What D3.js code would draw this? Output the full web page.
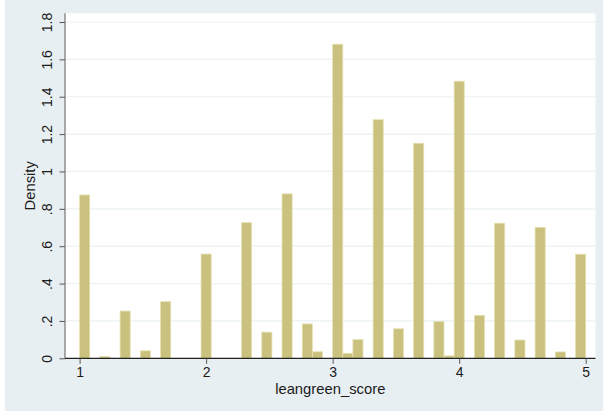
<!DOCTYPE html>
<html>
<head>
<meta charset="utf-8">
<script src="https://cdn.jsdelivr.net/npm/d3@7"></script>
<style>
    body { margin: 0; background: #ffffff; }
    text { font-family: "Liberation Sans", Arial, sans-serif; fill: #1a1a1a; }
</style>
</head>
<body>
<div id="chart"></div>
<script>
// histogram of leangreen_score, 50 bins of width .08 starting at 1
let binStart = 1;
let binWidth = 0.08;
let densities = [
    0.874, 0, 0.010, 0, 0.253, 0, 0.040, 0, 0.303, 0,
    0, 0, 0.558, 0, 0, 0, 0.726, 0, 0.140, 0,
    0.880, 0, 0.184, 0.035, 0, 1.681, 0.027, 0.100, 0, 1.277,
    0, 0.158, 0, 1.151, 0, 0.197, 0.013, 1.483, 0, 0.230,
    0, 0.723, 0, 0.098, 0, 0.701, 0, 0.034, 0, 0.557
];
let xTicks = [1, 2, 3, 4, 5];
let yTicks = [0, 0.2, 0.4, 0.6, 0.8, 1, 1.2, 1.4, 1.6, 1.8];
let yTickLabels = ["0", ".2", ".4", ".6", ".8", "1", "1.2", "1.4", "1.6", "1.8"];

let W = 603, H = 412;
let plot = {left: 65, right: 595.5, top: 13.3, bottom: 358.3};

let svg = d3.select("#chart").append("svg")
    .attr("width", W)
    .attr("height", H);

// graph region + plot region
svg.append("rect")
    .attr("x", 5).attr("y", 0)
    .attr("width", W - 5).attr("height", H - 1)
    .attr("fill", "#e8eff2");

svg.append("rect")
    .attr("x", plot.left).attr("y", plot.top)
    .attr("width", plot.right - plot.left).attr("height", plot.bottom - plot.top)
    .attr("fill", "#ffffff");

// scales
let x = d3.scaleLinear().domain([1, 5]).range([79.6, 585.7]);
let y = d3.scaleLinear().domain([0, 1.8]).range([plot.bottom, 22]);

// grid lines
svg.append("g")
    .selectAll("line")
    .data(yTicks.slice(1))
    .enter()
    .append("line")
    .attr("x1", plot.left + 1)
    .attr("x2", plot.right)
    .attr("y1", d => y(d))
    .attr("y2", d => y(d))
    .attr("stroke", "#eaf2f3")
    .attr("stroke-width", 1.2);

// bars
let bins = densities.map(function (d, i) {
    return {x0: binStart + i * binWidth, x1: binStart + (i + 1) * binWidth, density: d};
}).filter(d => d.density > 0);

svg.append("g")
    .selectAll("rect")
    .data(bins)
    .enter()
    .append("rect")
    .attr("x", d => x(d.x0))
    .attr("y", d => y(d.density))
    .attr("width", d => x(d.x1) - x(d.x0))
    .attr("height", d => y(0) - y(d.density))
    .attr("fill", "#c9c17d")
    .attr("stroke", "#e6e1b2")
    .attr("stroke-width", 0.8);

// y axis
let yAxis = svg.append("g")
    .attr("transform", "translate(" + plot.left + ",0)")
    .call(d3.axisLeft(y).tickValues(yTicks).tickSize(5.5).tickFormat((d, i) => yTickLabels[i]));

yAxis.select(".domain")
    .attr("d", "M0," + plot.top + "V" + plot.bottom)
    .attr("stroke", "#7f7f7f")
    .attr("stroke-width", 1.3);
yAxis.selectAll(".tick line").attr("stroke", "#555").attr("stroke-width", 1);
yAxis.selectAll(".tick text")
    .attr("x", null).attr("dy", null)
    .attr("transform", "translate(-13,0) rotate(-90)")
    .attr("text-anchor", "middle")
    .style("font-size", "14px")
    .style("font-family", "Liberation Sans, Arial, sans-serif")
    .attr("fill", "#1a1a1a");

// x axis
let xAxis = svg.append("g")
    .attr("transform", "translate(0," + plot.bottom + ")")
    .call(d3.axisBottom(x).tickValues(xTicks).tickSize(5.5).tickFormat(d3.format("d")));

xAxis.select(".domain")
    .attr("d", "M" + plot.left + ",0H" + plot.right)
    .attr("stroke", "#222")
    .attr("stroke-width", 1.3);
xAxis.selectAll(".tick line").attr("stroke", "#555").attr("stroke-width", 1);
xAxis.selectAll(".tick text")
    .attr("y", 9).attr("dy", "0.71em")
    .style("font-size", "14px")
    .style("font-family", "Liberation Sans, Arial, sans-serif")
    .attr("fill", "#1a1a1a");

// titles
svg.append("text")
    .attr("x", (plot.left + plot.right) / 2)
    .attr("y", 393.5)
    .attr("text-anchor", "middle")
    .style("font-size", "14.8px")
    .text("leangreen_score");

svg.append("text")
    .attr("transform", "translate(" + 35 + "," + (plot.top + plot.bottom) / 2 + ") rotate(-90)")
    .attr("text-anchor", "middle")
    .style("font-size", "14.8px")
    .text("Density");
</script>
</body>
</html>
